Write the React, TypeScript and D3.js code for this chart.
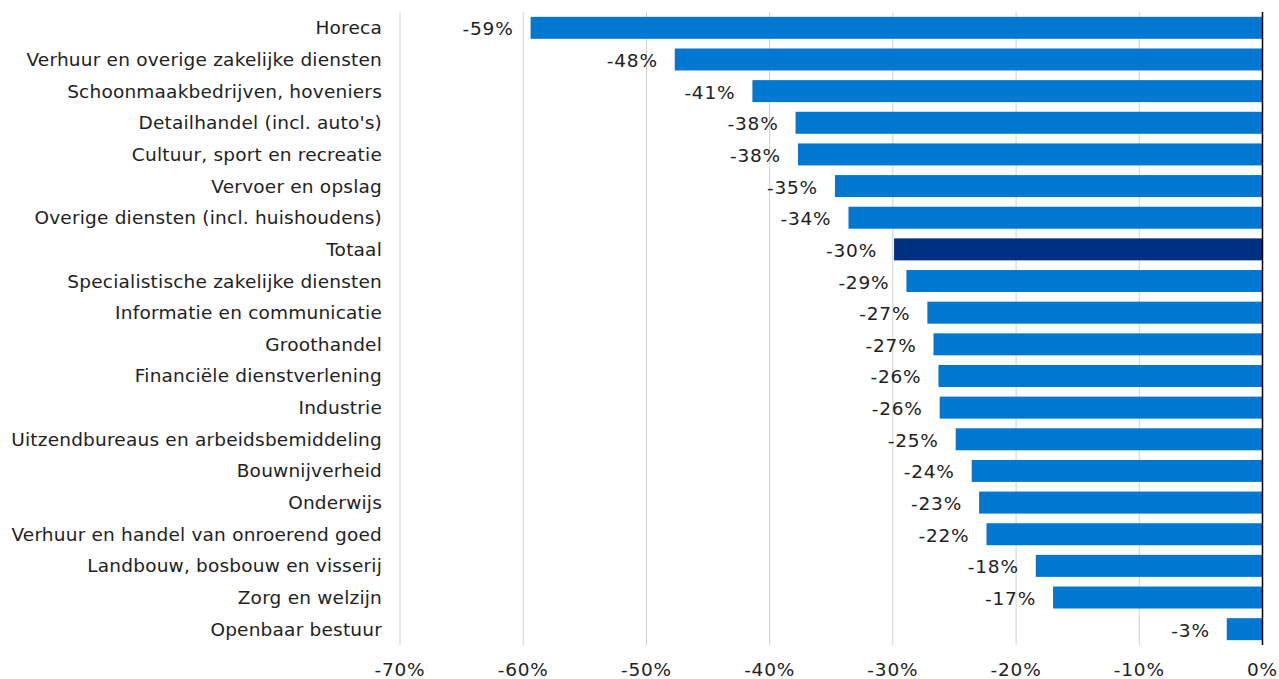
import React from "react";
import * as d3 from "d3";

const categories = [
  "Horeca",
  "Verhuur en overige zakelijke diensten",
  "Schoonmaakbedrijven, hoveniers",
  "Detailhandel (incl. auto's)",
  "Cultuur, sport en recreatie",
  "Vervoer en opslag",
  "Overige diensten (incl. huishoudens)",
  "Totaal",
  "Specialistische zakelijke diensten",
  "Informatie en communicatie",
  "Groothandel",
  "Financiële dienstverlening",
  "Industrie",
  "Uitzendbureaus en arbeidsbemiddeling",
  "Bouwnijverheid",
  "Onderwijs",
  "Verhuur en handel van onroerend goed",
  "Landbouw, bosbouw en visserij",
  "Zorg en welzijn",
  "Openbaar bestuur",
];

const values = [
  -59.4, -47.7, -41.4, -37.9, -37.7, -34.7, -33.6, -29.9, -28.9, -27.2,
  -26.7, -26.3, -26.2, -24.9, -23.6, -23.0, -22.4, -18.4, -17.0, -2.9,
];

const xTicks = [-70, -60, -50, -40, -30, -20, -10, 0];

const W = 1279;
const H = 679;
const FONT = "Verdana, 'DejaVu Sans', sans-serif";

export default function App() {
  const x = d3.scaleLinear().domain([-70, 0]).range([400, 1262.5]);
  const y = d3
    .scaleBand<string>()
    .domain(categories)
    .range([12, 645])
    .paddingInner(0.305)
    .paddingOuter(0.1525);

  return (
    <svg
      width={W}
      height={H}
      style={{ position: "absolute", left: 0, top: 0, background: "#fff" }}
      fontFamily={FONT}
    >
      {xTicks.map((t) => (
        <g key={t}>
          {t !== 0 && (
            <line
              x1={x(t)}
              x2={x(t)}
              y1={12}
              y2={645}
              stroke="#d0d0d0"
              strokeWidth={1}
            />
          )}
          <text
            x={x(t)}
            y={669}
            textAnchor="middle"
            dominantBaseline="central"
            fontSize={18.5}
            letterSpacing={0.8}
            fill="#222"
          >
            {t}%
          </text>
        </g>
      ))}
      {categories.map((c, i) => {
        const v = values[i];
        const yc = (y(c) as number) + y.bandwidth() / 2;
        return (
          <g key={c}>
            <rect
              x={x(v)}
              y={y(c)}
              width={x(0) - x(v)}
              height={y.bandwidth()}
              fill={c === "Totaal" ? "#003082" : "#0078d2"}
            />
            <text
              x={x(v) - 17}
              y={yc + 1}
              textAnchor="end"
              dominantBaseline="central"
              fontSize={18.5}
              letterSpacing={0.8}
              fill="#222"
            >
              {Math.round(v)}%
            </text>
            <text
              x={382}
              y={yc}
              textAnchor="end"
              dominantBaseline="central"
              fontSize={18.5}
              letterSpacing={0.2}
              fill="#222"
            >
              {c}
            </text>
          </g>
        );
      })}
      <line
        x1={x(0)}
        x2={x(0)}
        y1={12}
        y2={645}
        stroke="#000"
        strokeWidth={1.5}
      />
    </svg>
  );
}
